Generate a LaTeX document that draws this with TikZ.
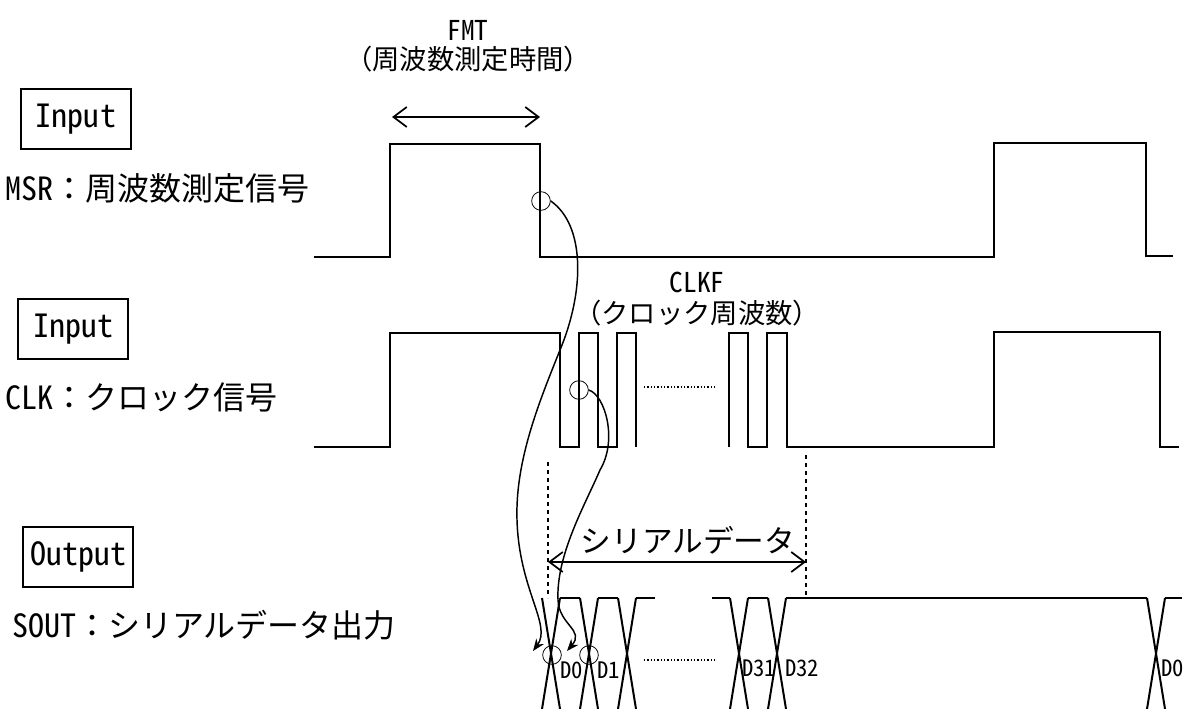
\documentclass[tikz,border=0pt]{standalone}
\usepackage{fontspec}
\setmainfont{Noto Sans CJK JP}
\usetikzlibrary{arrows.meta}

% half-width latin letters, as in the original
\newcommand\hw[1]{{\addfontfeatures{RawFeature=+hwid}#1}}

\tikzset{
  wave/.style={line width=1.5pt, line join=miter},
  iobox/.style={draw, line width=1.3pt, minimum width=83pt, minimum height=45pt,
    inner sep=0pt, font=\fontsize{24}{27}\selectfont},
  siglabel/.style={anchor=west, inner sep=0pt, font=\fontsize{24}{27}\selectfont},
  note/.style={inner sep=0pt, font=\fontsize{20.5}{24}\selectfont},
  dlabel/.style={anchor=west, inner sep=0pt, font=\fontsize{17}{19}\selectfont},
  ring/.style={draw, circle, line width=0.6pt, minimum size=14pt, inner sep=0pt},
  link/.style={line width=1.1pt, -{Stealth[length=9pt,width=7pt]}},
  span/.style={line width=1.3pt,
    {Straight Barb[length=10pt,width=15pt]}-{Straight Barb[length=10pt,width=15pt]}},
  guide/.style={dashed, line width=1pt},
}

\begin{document}
\begin{tikzpicture}[x=0.75pt,y=-0.75pt]
  \fill[white] (0,0) rectangle (1184,709);
  \useasboundingbox (0,0) rectangle (1184,709);

  % signal names on the left
  \node[iobox] (in1) at (76,119) {\hw{Input}};
  \node[siglabel] (msr) at (5,188) {\hw{MSR}：周波数測定信号};
  \node[iobox] (in2) at (73,329) {\hw{Input}};
  \node[siglabel] (clk) at (5,397) {\hw{CLK}：クロック信号};
  \node[iobox] (out) at (78,557) {\hw{Output}};
  \node[siglabel] (sout) at (12,625) {\hw{SOUT}：シリアルデータ出力};

  % MSR waveform
  \draw[wave] (314,257) -- (390,257) -- (390,144) -- (540,144) -- (540,257)
    -- (994,257) -- (994,143) -- (1146,143) -- (1146,256) -- (1173,256);
  % FMT span
  \coordinate (fmtL) at (392,117);
  \coordinate (fmtR) at (540,117);
  \draw[span] (fmtL) -- (fmtR);
  \node[note] (fmt) at (468,30) {\hw{FMT}};
  \node[note] (fmtjp) at (468,59) {（周波数測定時間）};

  % CLK waveform
  \draw[wave] (314,447) -- (390,447) -- (390,333) -- (560,333) -- (560,447)
    \foreach \x in {560,598} { -- ++(19,0) -- ++(0,-114) -- ++(19,0) -- ++(0,114) };
  \draw[wave] (729,447) -- ++(0,-114) -- ++(19,0) -- ++(0,114) -- ++(19,0)
    -- ++(0,-114) -- ++(20,0) -- ++(0,114) -- (994,447) -- (994,332)
    -- (1160,332) -- (1160,447) -- (1179,447);
  \draw[dash pattern=on 1pt off 1.5pt, line width=1pt] (644,387) -- (715,387);
  \node[note] (clkf) at (697,282) {\hw{CLKF}};
  \node[note] (clkfjp) at (697,313) {（クロック周波数）};

  % SOUT waveform
  \foreach \c in {551,589,627,739,777,1156} {
    \draw[wave] (\c-9,598) -- (\c+9,709);
    \draw[wave] (\c+9,598) -- (\c-9,709);
  }
  \foreach \a/\b in {560/580,598/618,636/655,712/730,748/768,786/1147,1165/1182}
    \draw[wave] (\a,598) -- (\b,598);
  \draw[dash pattern=on 1pt off 1.5pt, line width=1pt] (644,660) -- (715,660);
  \node[dlabel] (d0) at (560,670) {\hw{D0}};
  \node[dlabel] (d1) at (597,670) {\hw{D1}};
  \node[dlabel] (d31) at (742,668) {\hw{D31}};
  \node[dlabel] (d32) at (785,668) {\hw{D32}};
  \node[dlabel] (d0b) at (1161,668) {\hw{D0}};

  % serial data span
  \coordinate (gL1) at (548,462);
  \coordinate (gL2) at (548,598);
  \coordinate (gR1) at (806,455);
  \coordinate (gR2) at (806,597);
  \draw[guide] (gL1) -- (gL2);
  \draw[guide] (gR1) -- (gR2);
  \coordinate (serL) at (548,562);
  \coordinate (serR) at (806,562);
  \draw[span] (serL) -- (serR);
  \node[note, font=\fontsize{23}{26}\selectfont] (ser) at (688,540) {シリアルデータ};

  % edge markers and links
  \node[ring] (msrpt) at (541,201) {};
  \node[ring] (clkpt) at (579,390) {};
  \node[ring] (d0pt) at (552,655) {};
  \node[ring] (d1pt) at (589,655) {};
  \coordinate (d0tip) at (533,651);
  \coordinate (d1tip) at (567,651);
  \draw[link] (msrpt.east) .. controls (585,225) and (585,290) .. (560,350)
    .. controls (540,400) and (515,460) .. (517,520)
    .. controls (519,590) and (552,625) .. (d0tip);
  \draw[link] (clkpt.east) .. controls (605,395) and (618,440) .. (600,470)
    .. controls (585,505) and (556,555) .. (558,600)
    .. controls (559,625) and (585,630) .. (d1tip);
\end{tikzpicture}
\end{document}
